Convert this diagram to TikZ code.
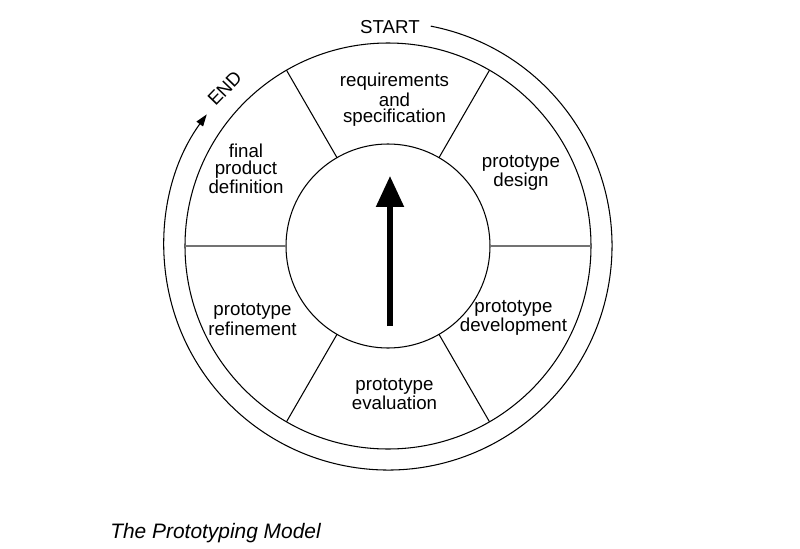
\documentclass[tikz,border=0pt]{standalone}
\usepackage{fontspec}
\setmainfont{Liberation Sans}
\usetikzlibrary{arrows.meta}
\begin{document}
\begin{tikzpicture}[x=0.02cm,y=0.02cm,
    thinline/.style={line width=0.6pt},
    phase/.style={align=center,inner sep=0pt,font=\fontsize{10.65}{9.4}\selectfont},
    tag/.style={inner sep=0pt,font=\fontsize{10.65}{12}\selectfont}]
    \useasboundingbox (-388,-302) rectangle (412,246);
    % wheel
    \coordinate (c) at (0,0);
    \draw[thinline] (c) circle (203);
    \draw[thinline] (c) circle (102);
    \foreach \a in {60,120,240,300}
        \draw[thinline] (\a:102) -- (\a:203);
    \foreach \a in {0,180}
        \draw[thinline,black!55] (\a:102) -- (\a:203);
    % phases
    \node[phase] (req) at (6.5,146) {requirements\\and\\specification};
    \node[phase] (des) at (133,73) {prototype\\design};
    \node[phase] (dev) at (125.5,-72) {prototype\\development};
    \node[phase] (eva) at (6.5,-148) {prototype\\evaluation};
    \node[phase] (ref) at (-135.5,-73.5) {prototype\\refinement};
    \node[phase] (fin) at (-142,77) {final\\product\\definition};
    % centre arrow
    \coordinate (tail) at (2,-80);
    \coordinate (tip) at (2,70);
    \draw[line width=3pt,-{Triangle[width=0.54cm,length=0.62cm]}] (tail) -- (tip);
    % outer loop
    \node[tag] (start) at (2,219) {START};
    \node[tag,rotate=46] (end) at (136:227) {END};
    \draw[thinline,-{Triangle[width=0.16cm,length=0.24cm]}] (79:224) arc[start angle=79,end angle=-216,radius=224];
    % caption
    \node[anchor=west,inner sep=0pt,font=\fontsize{11.9}{14}\selectfont\itshape] (cap) at (-278,-287) {The Prototyping Model};
\end{tikzpicture}
\end{document}
